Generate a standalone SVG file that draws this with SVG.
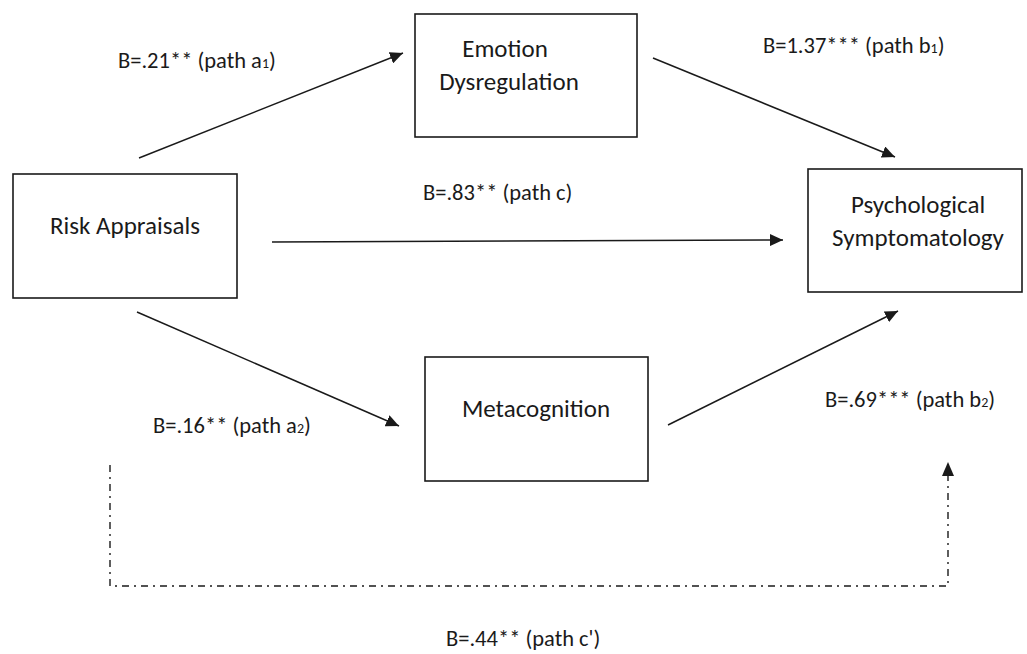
<svg xmlns="http://www.w3.org/2000/svg" width="1027" height="654" viewBox="0 0 1027 654">
<style>
.box{fill:#fff;stroke:#1a1a1a;stroke-width:1.6}
.nt{font-family:Carlito,"Open Sans","Liberation Sans",sans-serif;font-size:25px;fill:#1a1a1a;text-anchor:middle}
.lt{font-family:Carlito,"Open Sans","Liberation Sans",sans-serif;font-size:22.5px;fill:#1a1a1a}
.sub{font-size:14px}
.arr{fill:none;stroke:#1a1a1a;stroke-width:1.5;marker-end:url(#ah)}
.dd{fill:none;stroke:#1a1a1a;stroke-width:1.4;stroke-dasharray:7 5 2 5}
</style>
<defs>
<marker id="ah" markerUnits="userSpaceOnUse" markerWidth="14" markerHeight="12" refX="13" refY="6" orient="auto">
<path d="M0,0 L13,6 L0,12 z" fill="#1a1a1a"/>
</marker>
</defs>
<rect width="1027" height="654" fill="#fff"/>
<g id="connectors">
<line class="arr" x1="139" y1="158" x2="403" y2="53"/>
<line class="arr" x1="653" y1="58" x2="895" y2="157"/>
<line class="arr" x1="272" y1="242" x2="783" y2="240"/>
<line class="arr" x1="137" y1="312" x2="399" y2="426"/>
<line class="arr" x1="668" y1="425" x2="898" y2="311"/>
<path class="dd" d="M110,465 V586 H948 V476"/>
<path d="M942,476 L948,462 L954,476 z" fill="#1a1a1a"/>
</g>
<g id="node-risk">
<rect class="box" x="13" y="174" width="224" height="124"/>
<text class="nt" x="125" y="234">Risk Appraisals</text>
</g>
<g id="node-emotion">
<rect class="box" x="415" y="14" width="222" height="123"/>
<text class="nt" x="505" y="57">Emotion</text>
<text class="nt" x="509" y="90">Dysregulation</text>
</g>
<g id="node-psych">
<rect class="box" x="808" y="169" width="214" height="123"/>
<text class="nt" x="918" y="213">Psychological</text>
<text class="nt" x="918" y="246">Symptomatology</text>
</g>
<g id="node-meta">
<rect class="box" x="425" y="357" width="223" height="124"/>
<text class="nt" x="536" y="417">Metacognition</text>
</g>
<g id="labels">
<text class="lt" x="118" y="68">B=.21** (path a<tspan class="sub">1</tspan>)</text>
<text class="lt" x="423" y="200">B=.83** (path c)</text>
<text class="lt" x="763" y="53">B=1.37*** (path b<tspan class="sub">1</tspan>)</text>
<text class="lt" x="153" y="433">B=.16** (path a<tspan class="sub">2</tspan>)</text>
<text class="lt" x="825" y="407">B=.69*** (path b<tspan class="sub">2</tspan>)</text>
<text class="lt" x="446" y="646">B=.44** (path c')</text>
</g>
</svg>
